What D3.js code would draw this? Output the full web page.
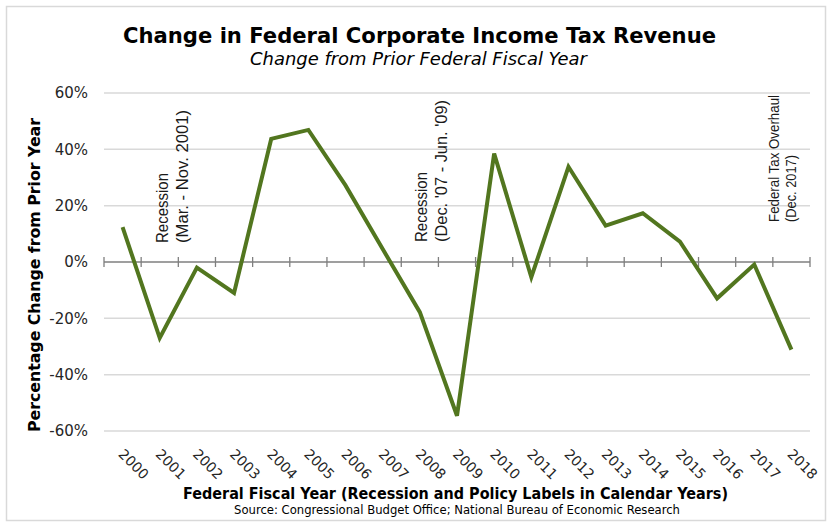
<!DOCTYPE html>
<html>
<head>
<meta charset="utf-8">
<script src="https://cdn.jsdelivr.net/npm/d3@7"></script>
<style>
  html, body { margin: 0; padding: 0; background: #fff; }
  svg { display: block; }
</style>
</head>
<body>
<svg id="chart" width="828" height="523"></svg>
<script>
// Federal fiscal years and year-over-year change in corporate income tax receipts
const years = ["2000","2001","2002","2003","2004","2005","2006","2007","2008","2009",
               "2010","2011","2012","2013","2014","2015","2016","2017","2018"];
const pctChange = [0.124, -0.270, -0.020, -0.110, 0.437, 0.469, 0.272, 0.046, -0.178, -0.546,
                   0.385, -0.054, 0.338, 0.129, 0.173, 0.072, -0.129, -0.009, -0.311];
const yTicks = [-0.6, -0.4, -0.2, 0, 0.2, 0.4, 0.6];

// Event labels: year they sit beside, and their two text lines
const eventYears = ["2001", "2008", "2017"];
const eventLine1 = ["Recession", "Recession", "Federal Tax Overhaul"];
const eventLine2 = ["(Mar. - Nov. 2001)", "(Dec. '07 - Jun. '09)", "(Dec. 2017)"];

const titleText = "Change in Federal Corporate Income Tax Revenue";
const subtitleText = "Change from Prior Federal Fiscal Year";
const yTitleText = "Percentage Change from Prior Year";
const xTitleText = "Federal Fiscal Year (Recession and Policy Labels in Calendar Years)";
const sourceText = "Source: Congressional Budget Office; National Bureau of Economic Research";

const svg = d3.select("#chart");
const W = 828, H = 523;
const plot = { left: 104, right: 810, top: 93, bottom: 431 };

const x = d3.scaleBand().domain(years).range([plot.left, plot.right]).paddingInner(0).paddingOuter(0);
const xc = d => x(d) + x.bandwidth() / 2;
const y = d3.scaleLinear().domain([-0.6, 0.6]).range([plot.bottom, plot.top]);

// outer frame
svg.append("rect").attr("x", 0).attr("y", 0).attr("width", W).attr("height", H).attr("fill", "#fff");
svg.append("rect")
  .attr("x", 6.5).attr("y", 6.5).attr("width", W - 9).attr("height", H - 9)
  .attr("fill", "none").attr("stroke", "#d9d9d9").attr("stroke-width", 1.5);

// horizontal gridlines
svg.append("g").selectAll("line")
  .data(yTicks.filter(t => t !== 0))
  .join("line")
  .attr("x1", plot.left).attr("x2", plot.right)
  .attr("y1", d => y(d)).attr("y2", d => y(d))
  .attr("stroke", "#d9d9d9").attr("stroke-width", 1.5);

// y tick labels (plain hyphen for negatives)
const pct = d => `${Math.round(d * 100)}%`;
const yAxis = d3.axisLeft(y).tickValues(yTicks).tickFormat(pct).tickSize(0).tickPadding(0);
const yg = svg.append("g").attr("transform", `translate(${plot.left - 16},0)`).call(yAxis);
yg.select(".domain").remove();
yg.selectAll("text")
  .attr("font-family", "'DejaVu Sans', sans-serif")
  .attr("font-size", 15).attr("fill", "#262626");

// zero line with category-boundary ticks, crossing the line
const y0 = y(0);
const zg = svg.append("g");
zg.append("line").attr("x1", plot.left).attr("x2", plot.right)
  .attr("y1", y0).attr("y2", y0).attr("stroke", "#7f7f7f").attr("stroke-width", 1.5);
const bounds = years.map(d => x(d)).concat([plot.right]);
zg.selectAll("line.tk").data(bounds).join("line").attr("class", "tk")
  .attr("x1", d => d).attr("x2", d => d)
  .attr("y1", y0 - 5).attr("y2", y0 + 5)
  .attr("stroke", "#7f7f7f").attr("stroke-width", 1.3);

// x tick labels, rotated
svg.append("g").selectAll("text").data(years).join("text")
  .attr("transform", d => `translate(${xc(d) - 5},${455}) rotate(45)`)
  .attr("font-family", "'DejaVu Sans', sans-serif")
  .attr("font-size", 14).attr("fill", "#262626")
  .text(d => d);

// event annotations (vertical text)
const evOffset = [-10, -11, 6];
const evBottom = [243, 242, 222];
const evSize = [16.5, 16.5, 15];
const evGap = [19.5, 19.5, 17.5];
const evLen1 = [70, 70, 127];
const evLen2 = [133, 142, 67];
eventYears.forEach((yr, i) => {
  const bx = x(yr) + x.bandwidth() + evOffset[i];
  const g = svg.append("g").attr("font-family", "'Liberation Sans', Arial, sans-serif")
    .attr("font-size", evSize[i]).attr("fill", "#1a1a1a");
  g.append("text").attr("transform", `translate(${bx},${evBottom[i]}) rotate(-90)`)
    .attr("textLength", evLen1[i]).attr("lengthAdjust", "spacingAndGlyphs")
    .text(eventLine1[i]);
  g.append("text").attr("transform", `translate(${bx + evGap[i]},${evBottom[i]}) rotate(-90)`)
    .attr("textLength", evLen2[i]).attr("lengthAdjust", "spacingAndGlyphs")
    .text(eventLine2[i]);
});

// data line
const line = d3.line().x((d, i) => xc(years[i])).y(d => y(d));
svg.append("path").datum(pctChange)
  .attr("d", line)
  .attr("fill", "none").attr("stroke", "#52761f").attr("stroke-width", 4)
  .attr("stroke-linejoin", "miter");

// titles
svg.append("text").attr("x", 419.5).attr("y", 43).attr("text-anchor", "middle")
  .attr("font-family", "'DejaVu Sans', sans-serif").attr("font-weight", "bold")
  .attr("font-size", 22).attr("fill", "#000")
  .attr("textLength", 593).attr("lengthAdjust", "spacingAndGlyphs")
  .text(titleText);
svg.append("text").attr("x", 418.5).attr("y", 65).attr("text-anchor", "middle")
  .attr("font-family", "'DejaVu Sans', sans-serif").attr("font-style", "italic")
  .attr("font-size", 17).attr("fill", "#000")
  .attr("textLength", 337).attr("lengthAdjust", "spacingAndGlyphs")
  .text(subtitleText);

// axis titles
svg.append("text").attr("transform", `translate(40,275) rotate(-90)`).attr("text-anchor", "middle")
  .attr("font-family", "'DejaVu Sans', sans-serif").attr("font-weight", "bold")
  .attr("font-size", 16.5).attr("fill", "#000")
  .attr("textLength", 314).attr("lengthAdjust", "spacingAndGlyphs")
  .text(yTitleText);
svg.append("text").attr("x", 455.5).attr("y", 499).attr("text-anchor", "middle")
  .attr("font-family", "'DejaVu Sans', sans-serif").attr("font-weight", "bold")
  .attr("font-size", 16.5).attr("fill", "#000")
  .attr("textLength", 545).attr("lengthAdjust", "spacingAndGlyphs")
  .text(xTitleText);
svg.append("text").attr("x", 457).attr("y", 514).attr("text-anchor", "middle")
  .attr("font-family", "'DejaVu Sans', sans-serif")
  .attr("font-size", 12.5).attr("fill", "#000")
  .attr("textLength", 446).attr("lengthAdjust", "spacingAndGlyphs")
  .text(sourceText);
</script>
</body>
</html>
